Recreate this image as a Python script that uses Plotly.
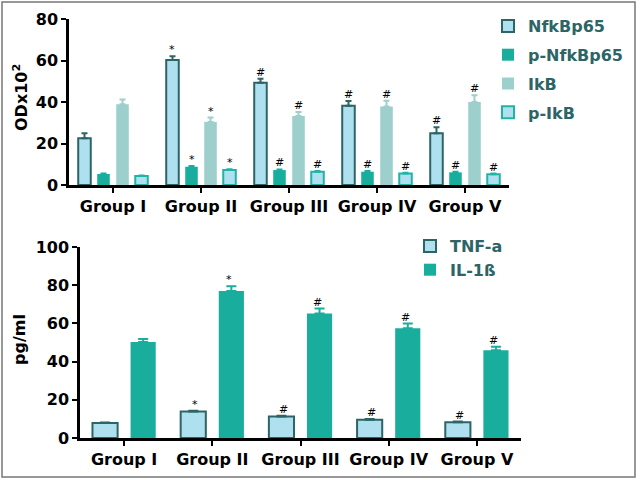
import plotly.graph_objects as go

groups = ["Group I", "Group II", "Group III", "Group IV", "Group V"]

# Top panel (ODx10^2)
nfkb = [22.5, 60.2, 49.3, 38.2, 25.0]
nfkb_err = [2.4, 1.8, 1.9, 2.3, 2.8]
pnfkb = [5.3, 8.8, 7.2, 6.4, 6.1]
pnfkb_err = [0.3, 0.4, 0.3, 0.3, 0.3]
ikb = [38.9, 30.4, 33.3, 37.8, 40.0]
ikb_err = [2.3, 2.1, 1.9, 2.8, 3.2]
pikb = [4.3, 7.2, 6.4, 5.6, 5.2]
pikb_err = [0.3, 0.4, 0.4, 0.3, 0.3]
top_marks = [
    ["", "*", "#", "#", "#"],
    ["", "*", "#", "#", "#"],
    ["", "*", "#", "#", "#"],
    ["", "*", "#", "#", "#"],
]

# Bottom panel (pg/ml)
tnf = [7.8, 13.9, 11.3, 9.5, 8.3]
tnf_err = [0.3, 0.4, 0.4, 0.4, 0.3]
il1b = [50.2, 77.0, 65.2, 57.5, 46.0]
il1b_err = [1.6, 2.4, 2.6, 2.4, 1.8]
bot_marks = [
    ["", "*", "#", "#", "#"],
    ["", "*", "#", "#", "#"],
]

LIGHT = "#aee0ef"
DARK = "#2d6466"
TEAL = "#19ad9e"
IKB = "#9dcfcc"
TEAL_EDGE = "#20b3a6"
FONT = "DejaVu Sans"

fig = go.Figure()

top_series = [
    ("NfkBp65", nfkb, nfkb_err, LIGHT, DARK, 2),
    ("p-NfkBp65", pnfkb, pnfkb_err, TEAL, TEAL, 0),
    ("IkB", ikb, ikb_err, IKB, IKB, 0),
    ("p-IkB", pikb, pikb_err, LIGHT, TEAL_EDGE, 2),
]
for i, (name, vals, errs, fill, edge, lw) in enumerate(top_series):
    fig.add_trace(go.Bar(
        x=groups, y=vals, name=name, xaxis="x", yaxis="y",
        marker=dict(color=fill, line=dict(color=edge, width=lw)),
        error_y=dict(type="data", array=errs, arrayminus=[0] * 5, symmetric=False,
                     color=edge if lw else fill, thickness=2, width=3),
        legend="legend", legendgroup=name,
    ))

bot_series = [
    ("TNF-a", tnf, tnf_err, LIGHT, DARK, 2),
    ("IL-1ß", il1b, il1b_err, TEAL, TEAL, 0),
]
for i, (name, vals, errs, fill, edge, lw) in enumerate(bot_series):
    fig.add_trace(go.Bar(
        x=groups, y=vals, name=name, xaxis="x2", yaxis="y2",
        marker=dict(color=fill, line=dict(color=edge, width=lw)),
        error_y=dict(type="data", array=errs, arrayminus=[0] * 5, symmetric=False,
                     color=edge if lw else fill, thickness=2, width=5),
        legend="legend2", legendgroup=name,
    ))

anns = []
ncat = len(groups)
def offsets(n, bargap, idx):
    slot = (1 - bargap) / n
    return -0.5 + bargap / 2 + slot * (idx + 0.5)

for i, (name, vals, errs, *_ ) in enumerate(top_series):
    for j in range(ncat):
        if top_marks[i][j]:
            anns.append(dict(x=j + offsets(4, 0.136, i), y=vals[j] + errs[j], xref="x", yref="y",
                             text=top_marks[i][j], showarrow=False, yanchor="bottom",
                             font=dict(family=FONT, size=11, color="black"), yshift=-2))
for i, (name, vals, errs, *_ ) in enumerate(bot_series):
    for j in range(ncat):
        if bot_marks[i][j]:
            anns.append(dict(x=j + offsets(2, 0.23, i), y=vals[j] + errs[j], xref="x2", yref="y2",
                             text=bot_marks[i][j], showarrow=False, yanchor="bottom",
                             font=dict(family=FONT, size=11, color="black"), yshift=-2))

anns.append(dict(x=21 / 640, y=1 - 98 / 480, xref="paper", yref="paper", text="<b>ODx10<sup>2</sup></b>",
                 xanchor="center", yanchor="middle",
                 textangle=-90, showarrow=False, font=dict(family=FONT, size=16, color="black")))
anns.append(dict(x=19 / 640, y=1 - 340 / 480, xref="paper", yref="paper", text="<b>pg/ml</b>",
                 xanchor="center", yanchor="middle",
                 textangle=-90, showarrow=False, font=dict(family=FONT, size=16, color="black")))

axis_common = dict(showline=True, linecolor="black", linewidth=2.5, ticks="outside",
                   ticklen=5, tickwidth=2, tickcolor="black", showgrid=False, zeroline=False,
                   automargin=False,
                   tickfont=dict(family=FONT, size=16, color="black", weight="bold"))

fig.update_layout(
    width=640, height=480,
    margin=dict(l=0, r=0, t=0, b=0, autoexpand=False),
    plot_bgcolor="white", paper_bgcolor="white",
    barmode="group", bargap=0.136, bargroupgap=0.34,
    xaxis=dict(domain=[69 / 640, 509 / 640], anchor="y", range=[-0.5, 4.5], **axis_common),
    yaxis=dict(domain=[1 - 185 / 480, 1 - 19 / 480], anchor="x", range=[0, 80],
               tickvals=[0, 20, 40, 60, 80], **axis_common),
    xaxis2=dict(domain=[80 / 640, 521 / 640], anchor="y2", range=[-0.5, 4.5], **axis_common),
    yaxis2=dict(domain=[1 - 438 / 480, 1 - 247 / 480], anchor="x2", range=[0, 100],
                tickvals=[0, 20, 40, 60, 80, 100], **axis_common),
    legend=dict(x=488 / 640, y=1 - 9 / 480, xanchor="left", yanchor="top",
                font=dict(family=FONT, size=16, color=DARK, weight="bold"),
                tracegroupgap=5, bgcolor="rgba(0,0,0,0)"),
    legend2=dict(x=410 / 640, y=1 - 229 / 480, xanchor="left", yanchor="top",
                 font=dict(family=FONT, size=16, color=DARK, weight="bold"),
                 tracegroupgap=0, bgcolor="rgba(0,0,0,0)"),
    annotations=anns,
    shapes=[dict(type="rect", xref="paper", yref="paper", x0=2 / 640, x1=635 / 640,
                 y0=1 - 477 / 480, y1=1 - 2 / 480, line=dict(color="#777777", width=1.5))],
    showlegend=True,
)

fig.write_html("out.html", config={"displayModeBar": False},
               post_script="document.body.style.margin='0';document.body.style.overflow='hidden';")
